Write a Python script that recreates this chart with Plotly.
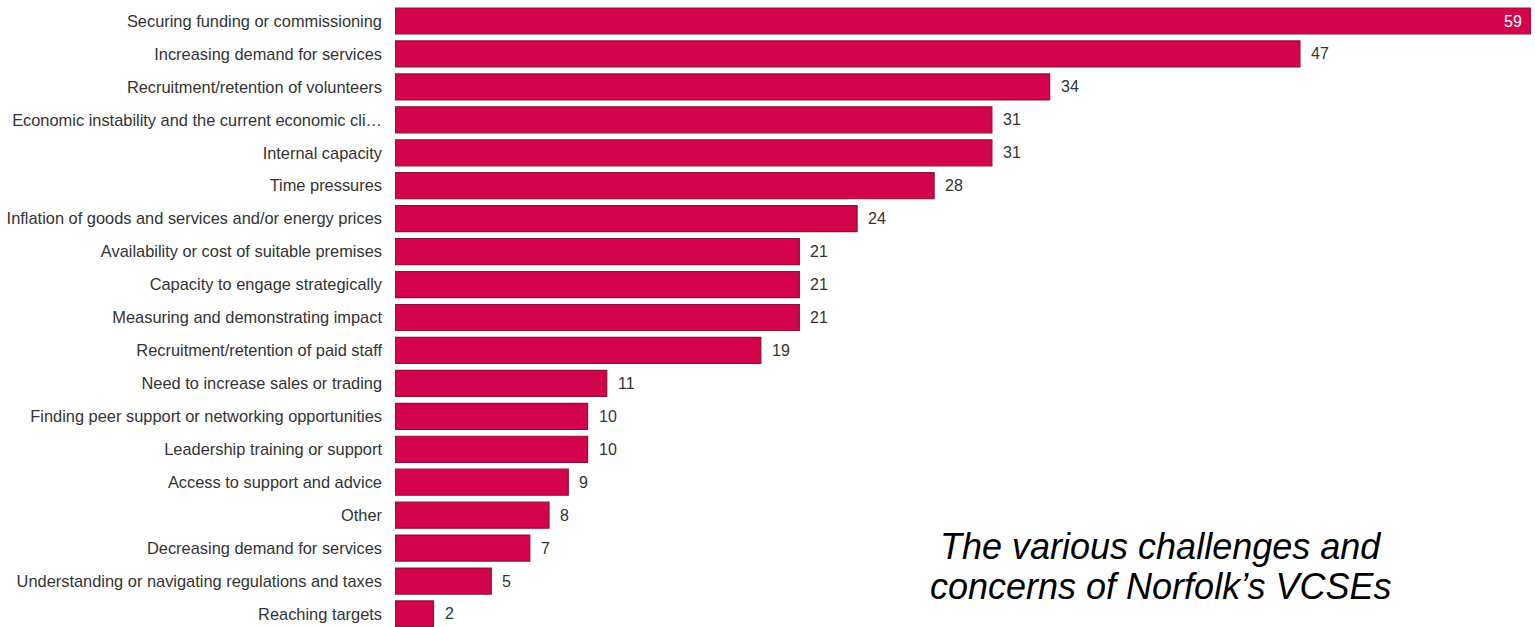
import plotly.graph_objects as go

categories = [
    "Securing funding or commissioning",
    "Increasing demand for services",
    "Recruitment/retention of volunteers",
    "Economic instability and the current economic cli\u2026",
    "Internal capacity",
    "Time pressures",
    "Inflation of goods and services and/or energy prices",
    "Availability or cost of suitable premises",
    "Capacity to engage strategically",
    "Measuring and demonstrating impact",
    "Recruitment/retention of paid staff",
    "Need to increase sales or trading",
    "Finding peer support or networking opportunities",
    "Leadership training or support",
    "Access to support and advice",
    "Other",
    "Decreasing demand for services",
    "Understanding or navigating regulations and taxes",
    "Reaching targets",
]
counts = [59, 47, 34, 31, 31, 28, 24, 21, 21, 21, 19, 11, 10, 10, 9, 8, 7, 5, 2]
caption_lines = ["The various challenges and", "concerns of Norfolk\u2019s VCSEs"]

BAR_FILL = "#D3034D"
BAR_EDGE = "#8E1236"
FONT = "Liberation Sans, Arial, sans-serif"

fig = go.Figure(
    go.Bar(
        x=counts,
        y=categories,
        orientation="h",
        width=0.79,
        marker=dict(color=BAR_FILL, line=dict(color=BAR_EDGE, width=1.2)),
        hoverinfo="x+y",
    )
)

# value labels: the longest bar carries its label inside, the rest just past the bar end
max_val = max(counts)
for cat, val in zip(categories, counts):
    inside = val == max_val
    fig.add_annotation(
        x=val,
        y=cat,
        text=str(val),
        showarrow=False,
        xanchor="right" if inside else "left",
        xshift=-7 if inside else 9,
        font=dict(family=FONT, size=16, color="#FFFFFF" if inside else "#333333"),
    )

# italic caption in the lower right, one annotation per line for tight leading
for line, ypos in zip(caption_lines, [0.1276, 0.0638]):
    fig.add_annotation(
        text=f"<i>{line}</i>",
        xref="paper",
        yref="paper",
        x=0.674,
        y=ypos,
        xanchor="center",
        yanchor="middle",
        showarrow=False,
        font=dict(family=FONT, size=36, color="#000000"),
    )

fig.update_layout(
    width=1535,
    height=627,
    margin=dict(l=395, r=4, t=0, b=0),
    paper_bgcolor="white",
    plot_bgcolor="white",
    showlegend=False,
    font=dict(family=FONT, size=16, color="#333333"),
    xaxis=dict(
        range=[0, max_val],
        showgrid=False,
        zeroline=False,
        showticklabels=False,
        showline=False,
        fixedrange=True,
    ),
    yaxis=dict(
        type="category",
        categoryorder="array",
        categoryarray=categories,
        range=[18.395, -0.6375],
        showgrid=False,
        zeroline=False,
        showline=False,
        ticks="",
        ticklabelstandoff=12,
        tickfont=dict(family=FONT, size=16.4, color="#333333"),
        fixedrange=True,
    ),
)

fig.write_html("out.html")
